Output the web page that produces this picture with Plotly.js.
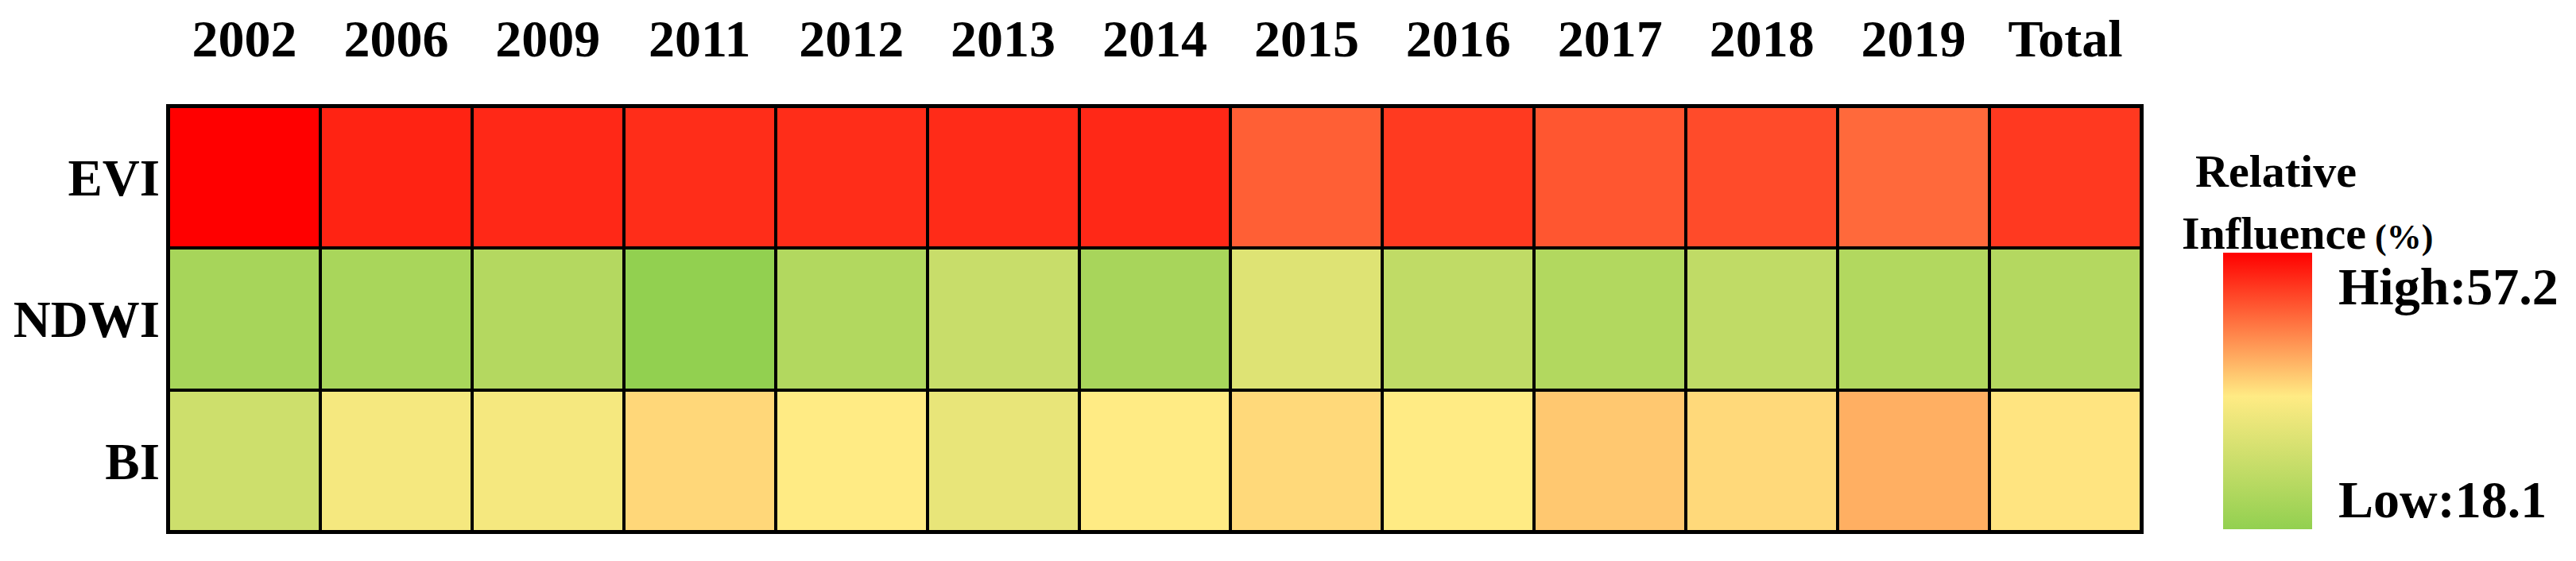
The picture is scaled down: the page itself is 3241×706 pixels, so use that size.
<!DOCTYPE html>
<html>
<head>
<meta charset="utf-8">
<script src="https://cdn.plot.ly/plotly-3.0.1.min.js"></script>
<style>
  html, body { margin: 0; padding: 0; background: #ffffff; }
  #chart { width: 3241px; height: 706px; }
</style>
</head>
<body>
<div id="chart"></div>
<script>
const years = ['2002', '2006', '2009', '2011', '2012', '2013', '2014', '2015', '2016', '2017', '2018', '2019', 'Total'];
const variables = ['EVI', 'NDWI', 'BI'];
const eviValues  = [57.2, 54.2, 53.7, 53.3, 53.3, 53.5, 53.7, 49.0, 52.2, 49.8, 50.7, 48.1, 52.3];
const ndwiValues = [21.8, 22.1, 24.0, 18.1, 23.6, 27.4, 21.9, 31.2, 26.0, 23.6, 26.0, 23.6, 24.0];
const biValues   = [28.3, 35.1, 35.1, 38.6, 36.9, 32.9, 36.9, 38.4, 36.9, 39.9, 38.4, 42.1, 37.5];
const lowValue = 18.1;
const highValue = 57.2;

// ---- layout geometry (pixels) ----
const W = 3241, H = 706;
const plotL = 212, plotR = 2694, plotT = 134, plotB = 669;
const px = x => (x - plotL) / (plotR - plotL);
const py = y => (plotB - y) / (plotB - plotT);
const FONT = 'Liberation Serif, Times New Roman, serif';

const trace = {
  type: 'heatmap',
  x: years,
  y: variables,
  z: [eviValues, ndwiValues, biValues],
  zmin: lowValue,
  zmax: highValue,
  xgap: 4,
  ygap: 4,
  hoverinfo: 'skip',
  colorscale: [
    [0.0, '#92D050'],
    [0.48, '#FFEB84'],
    [1.0, '#FF0000']
  ],
  colorbar: {
    xref: 'paper', yref: 'paper',
    x: px(2797), xanchor: 'left',
    y: py(666), yanchor: 'bottom',
    lenmode: 'pixels', len: 348,
    thicknessmode: 'pixels', thickness: 112,
    xpad: 0, ypad: 0,
    outlinewidth: 0,
    ticks: '',
    showticklabels: false
  }
};

const axisCommon = {
  type: 'category',
  showgrid: false,
  zeroline: false,
  ticks: '',
  showline: true,
  linecolor: '#000000',
  linewidth: 3,
  mirror: true,
  fixedrange: true
};

const layout = {
  width: W,
  height: H,
  margin: { l: plotL, r: W - plotR, t: plotT, b: H - plotB, pad: 0 },
  paper_bgcolor: '#ffffff',
  plot_bgcolor: '#000000',
  font: { family: FONT, color: '#000000' },
  xaxis: Object.assign({}, axisCommon, {
    side: 'top',
    tickfont: { family: FONT, size: 66, weight: 'bold', color: '#000000' },
    ticklabelstandoff: 34
  }),
  yaxis: Object.assign({}, axisCommon, {
    autorange: 'reversed',
    tickfont: { family: FONT, size: 65, weight: 'bold', color: '#000000' },
    ticklabelstandoff: -5
  }),
  annotations: [
    {
      xref: 'paper', yref: 'paper', x: px(2863), y: py(216),
      xanchor: 'center', yanchor: 'middle', showarrow: false,
      text: 'Relative',
      font: { family: FONT, size: 58, weight: 'bold', color: '#000000' }
    },
    {
      xref: 'paper', yref: 'paper', x: px(2743), y: py(293),
      xanchor: 'left', yanchor: 'middle', showarrow: false,
      text: 'Influence<span style="font-size:44px"> (%)</span>',
      font: { family: FONT, size: 58, weight: 'bold', color: '#000000' }
    },
    {
      xref: 'paper', yref: 'paper', x: px(2940), y: py(360),
      xanchor: 'left', yanchor: 'middle', showarrow: false,
      text: 'High:' + highValue.toFixed(1),
      font: { family: FONT, size: 66, weight: 'bold', color: '#000000' }
    },
    {
      xref: 'paper', yref: 'paper', x: px(2940), y: py(628),
      xanchor: 'left', yanchor: 'middle', showarrow: false,
      text: 'Low:' + lowValue.toFixed(1),
      font: { family: FONT, size: 66, weight: 'bold', color: '#000000' }
    }
  ]
};

Plotly.newPlot('chart', [trace], layout, { displayModeBar: false, staticPlot: true });
</script>
</body>
</html>
